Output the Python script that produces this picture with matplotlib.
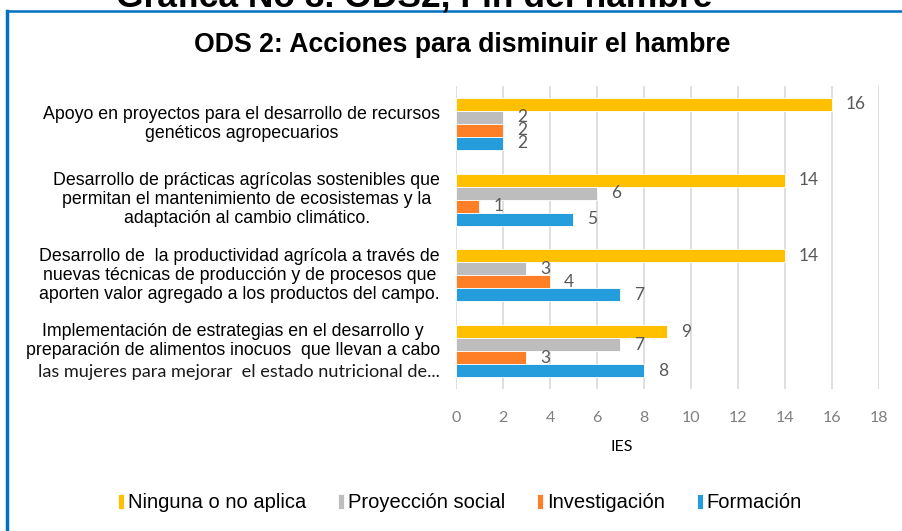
import numpy as np
import matplotlib.pyplot as plt
from matplotlib.lines import Line2D

# categories (top to bottom) and series values
categorias = [
    "Apoyo en proyectos para el desarrollo de recursos\ngenéticos agropecuarios",
    "Desarrollo de prácticas agrícolas sostenibles que\npermitan el mantenimiento de ecosistemas y la\nadaptación al cambio climático.",
    "Desarrollo de  la productividad agrícola a través de\nnuevas técnicas de producción y de procesos que\naporten valor agregado a los productos del campo.",
    "Implementación de estrategias en el desarrollo y\npreparación de alimentos inocuos  que llevan a cabo",
]
ultima_linea = "las mujeres para mejorar  el estado nutricional de..."

series = ["Ninguna o no aplica", "Proyección social", "Investigación", "Formación"]
ninguna = [16, 14, 14, 9]
proyeccion = [2, 6, 3, 7]
investigacion = [2, 1, 4, 3]
formacion = [2, 5, 7, 8]
valores = [ninguna, proyeccion, investigacion, formacion]
colores = ["#FFC000", "#BDBDBD", "#FF7F27", "#259CDB"]
xticks = np.arange(0, 19, 2)

fig = plt.figure(figsize=(9.02, 5.31), dpi=100)
ax = fig.add_axes([456 / 902, 1 - 389 / 531, 423 / 902, 303 / 531])

n = len(categorias)
y = np.arange(n)[::-1].astype(float)
h = 0.172
offsets = [1.5 * h, 0.5 * h, -0.5 * h, -1.5 * h]

for vals, col, off, name in zip(valores, colores, offsets, series):
    bars = ax.barh(y + off, vals, height=h, color=col, edgecolor="white",
                   linewidth=0.6, label=name, zorder=3)
    for b, v in zip(bars, vals):
        ax.annotate(str(v), (b.get_width(), b.get_y() + b.get_height() / 2),
                    xytext=(14, 0), textcoords="offset pixels",
                    ha="left", va="center", fontsize=12.5, family="Lato",
                    color="#595959")

ax.set_xlim(0, 18)
ax.set_ylim(-0.5, n - 0.5)
ax.set_xticks(xticks)
ax.set_xticklabels([str(t) for t in xticks], family="Lato", fontsize=11.5,
                   color="#7F7F7F")
ax.tick_params(axis="x", length=0, pad=16)
ax.tick_params(axis="y", length=0)
ax.set_yticks([])
ax.grid(axis="x", color="#D9D9D9", linewidth=1.2, zorder=0)
for s in ax.spines.values():
    s.set_visible(False)

# category labels
for yi, lab in zip(y, categorias):
    if lab is categorias[-1]:
        ax.text(-0.68, yi + 0.135, lab, ha="right", va="center",
                multialignment="center", fontsize=12.8,
                family="Liberation Sans", linespacing=1.17)
        ax.text(-0.68, yi - 0.27, ultima_linea, ha="right", va="center",
                fontsize=13.1, family="Lato", color="#1a1a1a")
    else:
        ax.text(-0.68, yi, lab, ha="right", va="center",
                multialignment="center", fontsize=12.8,
                family="Liberation Sans", linespacing=1.17)

fig.text(622 / 902, 1 - 447 / 531, "IES", ha="center", va="center",
         fontsize=11.5, family="Lato")

fig.text(462 / 902, 1 - 45 / 531, "ODS 2: Acciones para disminuir el hambre",
         ha="center", va="center", fontsize=19.2, fontweight="bold",
         family="Liberation Sans")

# clipped page title above the frame
fig.text(414 / 902, 1 - 6 / 531, "Gráfica No 3. ODS2, Fin del hambre",
         ha="center", va="baseline", fontsize=25.5, fontweight="bold",
         family="Liberation Sans")

# blue frame
fig.add_artist(Line2D([7.5 / 902, 7.5 / 902], [0, 1 - 11 / 531],
                      color="#0070C0", linewidth=2.5))
fig.add_artist(Line2D([6.5 / 902, 1], [1 - 11 / 531, 1 - 11 / 531],
                      color="#0070C0", linewidth=1.8))

handles, labels = ax.get_legend_handles_labels()
fig.legend(handles, labels, loc="center", bbox_to_anchor=(460 / 902, 1 - 503 / 531),
           ncol=4, frameon=False, prop={"family": "Liberation Sans", "size": 14.5},
           handlelength=0.28, handleheight=0.75, handletextpad=0.2, columnspacing=1.6)

fig.savefig("out.png", dpi=100)
